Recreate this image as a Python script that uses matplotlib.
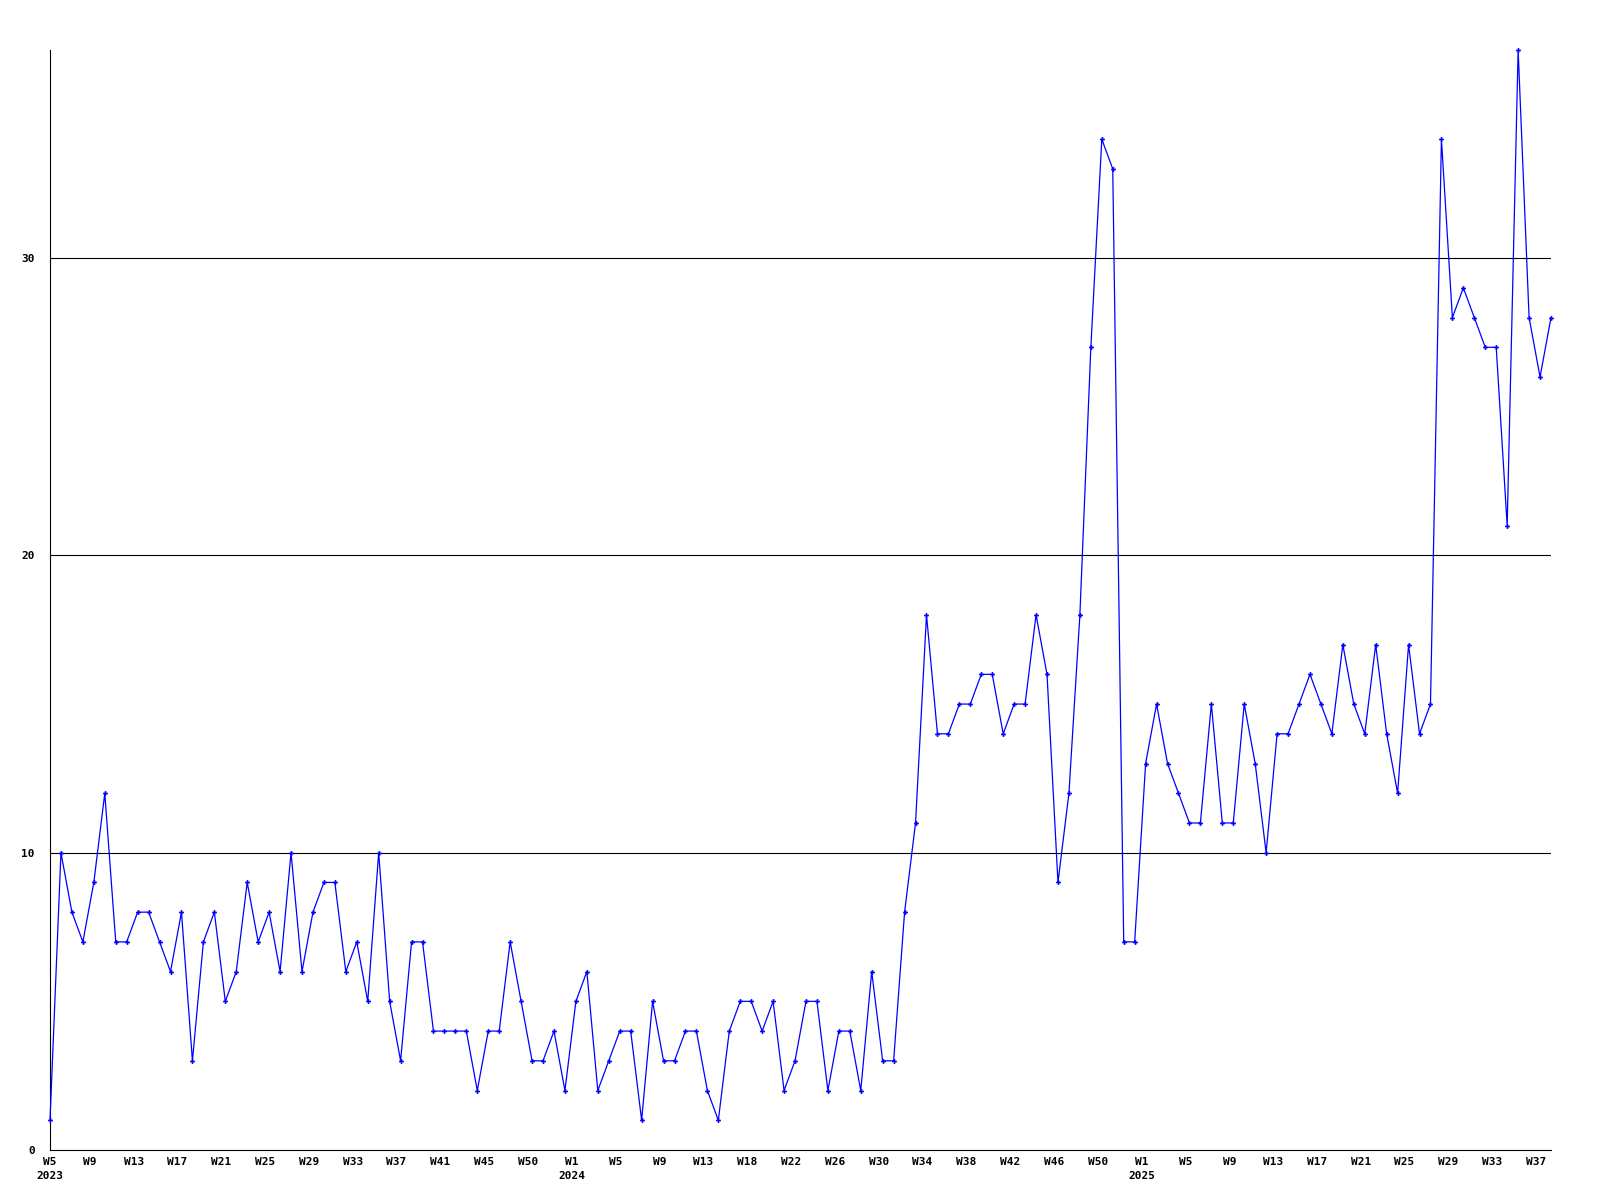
import numpy as np
import matplotlib.pyplot as plt
import matplotlib.transforms as mtransforms


# weekly counts, 2023 W5 .. 2025 W38
vals_2023 = [1, 10, 8, 7, 9, 12, 7, 7, 8, 8, 7, 6, 8, 3, 7, 8, 5, 6, 9, 7,
             8, 6, 10, 6, 8, 9, 9, 6, 7, 5, 10, 5, 3, 7, 7, 4, 4, 4, 4, 2,
             4, 4, 7, 5, 3, 3, 4, 2]
vals_2024 = [5, 6, 2, 3, 4, 4, 1, 5, 3, 3, 4, 4, 2, 1, 4, 5, 5, 4, 5, 2,
             3, 5, 5, 2, 4, 4, 2, 6, 3, 3, 8, 11, 18, 14, 14, 15, 15, 16, 16, 14,
             15, 15, 18, 16, 9, 12, 18, 27, 34, 33, 7, 7]
vals_2025 = [13, 15, 13, 12, 11, 11, 15, 11, 11, 15, 13, 10, 14, 14, 15, 16, 15, 14, 17, 15,
             14, 17, 14, 12, 17, 14, 15, 34, 28, 29, 28, 27, 27, 21, 37, 28, 26, 28]

tick_labels = ["W5\n2023", "W9", "W13", "W17", "W21", "W25", "W29", "W33", "W37", "W41",
               "W45", "W50",
               "W1\n2024", "W5", "W9", "W13", "W18", "W22", "W26", "W30", "W34", "W38",
               "W42", "W46", "W50",
               "W1\n2025", "W5", "W9", "W13", "W17", "W21", "W25", "W29", "W33", "W37"]
y_ticks = [0, 10, 20, 30]

values = vals_2023 + vals_2024 + vals_2025
x = np.arange(len(values))

fig = plt.figure(figsize=(16, 12), dpi=100)
ax = fig.add_axes([50 / 1600, 50 / 1200, 1501 / 1600, 1100 / 1200])

for yv in y_ticks[1:]:
    ax.axhline(yv, color="black", linewidth=0.8, zorder=1)

ax.plot(x, values, color="#0000ff", linewidth=0.9, marker="P", markersize=3.5,
        markeredgewidth=0, zorder=3, clip_on=False)

ax.set_xlim(0, len(values) - 1)
ax.set_ylim(0, 37)

ax.set_xticks(np.arange(0, len(values), 4)[:len(tick_labels)])
ax.set_xticklabels(tick_labels, fontsize=8, fontweight="bold",
                   family="DejaVu Sans Mono", linespacing=1.5, va="top")
ax.set_yticks(y_ticks)
ax.set_yticklabels([str(v) for v in y_ticks], fontsize=8, fontweight="bold",
                   family="DejaVu Sans Mono")
ax.tick_params(axis="both", length=0)
ax.tick_params(axis="x", pad=5)
ax.tick_params(axis="y", pad=11)

# labels in the original sit a few pixels left of their week
shift = mtransforms.ScaledTranslation(-4 / 100, 0, fig.dpi_scale_trans)
for lab in ax.get_xticklabels()[1:]:
    lab.set_transform(lab.get_transform() + shift)

ax.spines["top"].set_visible(False)
ax.spines["right"].set_visible(False)
ax.spines["left"].set_linewidth(0.8)
ax.spines["bottom"].set_linewidth(0.8)

plt.savefig("out.png", dpi=100)
